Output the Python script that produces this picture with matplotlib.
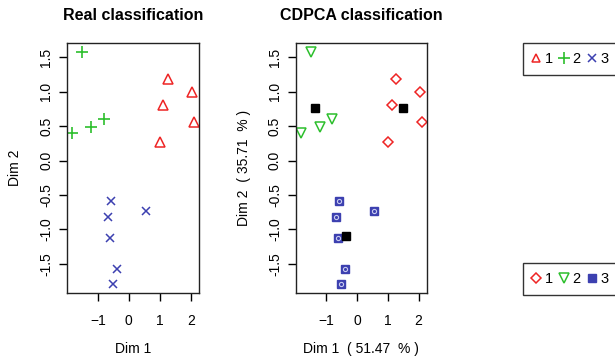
import numpy as np
import matplotlib
matplotlib.use("Agg")
import matplotlib.pyplot as plt
from matplotlib.lines import Line2D

plt.rcParams['font.family'] = ['Liberation Sans', 'DejaVu Sans']

# group 1 (red), group 2 (green), group 3 (blue): Dim 1 / Dim 2 scores
g1_x = [1.25, 2.03, 1.12, 2.11, 1.01]
g1_y = [1.19, 0.99, 0.81, 0.56, 0.27]
g2_x = [-1.51, -1.84, -1.22, -0.81]
g2_y = [1.57, 0.40, 0.49, 0.60]
g3_x = [-0.59, -0.68, -0.62, -0.38, -0.52, 0.56]
g3_y = [-0.59, -0.82, -1.12, -1.57, -1.79, -0.73]

# CDPCA centroids
cent_x = [-1.38, 1.49, -0.37]
cent_y = [0.77, 0.76, -1.10]

xticks = [-1, 0, 1, 2]
yticks = [-1.5, -1.0, -0.5, 0.0, 0.5, 1.0, 1.5]

red = '#ee2424'
green = '#2cbf2c'
blue = '#3c40b0'

fig = plt.figure(figsize=(6.15, 3.61), dpi=100)
ax1 = fig.add_axes([0.109, 0.188, 0.2146, 0.6925])
ax2 = fig.add_axes([0.481, 0.188, 0.2130, 0.6925])


def style(ax, title, xlabel, ylabel):
    ax.set_xticks(xticks)
    ax.set_yticks(yticks)
    ax.set_yticklabels([f"{v:.1f}" for v in yticks], rotation=90, va='center')
    ax.tick_params(direction='out', length=6, width=1, labelsize=10)
    ax.tick_params(axis='x', pad=9)
    ax.tick_params(axis='y', pad=4)
    for s in ax.spines.values():
        s.set_linewidth(1)
        s.set_color('#222222')
    ax.margins(0.04)
    ax.set_title(title, fontsize=11.5, fontweight='bold', pad=17)
    ax.set_xlabel(xlabel, fontsize=10, labelpad=10)
    ax.set_ylabel(ylabel, fontsize=10, labelpad=12)


# Real classification
ax1.plot(g1_x, g1_y, '^', ms=6.5, mfc='none', mec=red, mew=1.1, ls='none')
ax1.plot(g2_x, g2_y, '+', ms=8, mec=green, mew=1.2, ls='none')
ax1.plot(g3_x, g3_y, 'x', ms=6, mec=blue, mew=1.1, ls='none')
style(ax1, "Real classification", "Dim 1", "Dim 2")

# CDPCA classification
ax2.plot(g1_x, g1_y, 'D', ms=5.5, mfc='none', mec=red, mew=1.1, ls='none')
ax2.plot(g2_x, g2_y, 'v', ms=7, mfc='none', mec=green, mew=1.1, ls='none')
ax2.plot(g3_x, g3_y, 's', ms=6, mfc=blue, mec=blue, ls='none')
ax2.plot(g3_x, g3_y, 'o', ms=3, mfc='none', mec='#c8cbf0', mew=0.8, ls='none')
ax2.plot(cent_x, cent_y, 's', ms=6, color='black', ls='none')
style(ax2, "CDPCA classification", "Dim 1  ( 51.47  % )", "Dim 2  ( 35.71  % )")

# legends (clipped at the right figure edge like the original)
h1 = [Line2D([], [], marker='^', ms=6, mfc='none', mec=red, mew=1.1, ls='none'),
      Line2D([], [], marker='+', ms=8, mec=green, mew=1.2, ls='none'),
      Line2D([], [], marker='x', ms=5.5, mec=blue, mew=1.1, ls='none')]
h2 = [Line2D([], [], marker='D', ms=5, mfc='none', mec=red, mew=1.1, ls='none'),
      Line2D([], [], marker='v', ms=6.5, mfc='none', mec=green, mew=1.1, ls='none'),
      Line2D([], [], marker='s', ms=5.5, mfc=blue, mec=blue, ls='none')]
labels = ['1', '2', '3']
for h, top in [(h1, 43), (h2, 263)]:
    fig.legend(h, labels, ncol=3, loc='upper left',
               bbox_to_anchor=(523 / 615, 1 - top / 361),
               frameon=True, fancybox=False, edgecolor='black',
               handlelength=0.6, handletextpad=0.3, columnspacing=0.45,
               borderpad=0.6, borderaxespad=0, fontsize=10.5).get_frame().set_linewidth(1)

fig.savefig("out.png", dpi=100)
